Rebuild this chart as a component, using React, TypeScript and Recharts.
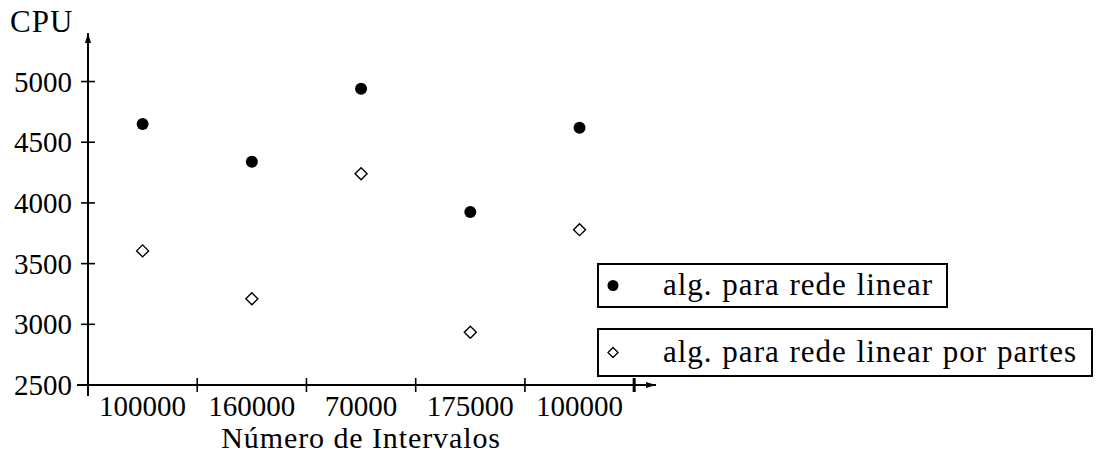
import React from 'react';
import {
  ScatterChart,
  Scatter,
  XAxis,
  YAxis,
  ReferenceLine,
  ReferenceDot,
} from 'recharts';

const CATEGORIES = ['100000', '160000', '70000', '175000', '100000'];
const LINEAR = [4650, 4340, 4940, 3925, 4620];
const PARTES = [3605, 3210, 4240, 2935, 3780];
const Y_TICKS = [2500, 3000, 3500, 4000, 4500, 5000];
const X_TICKS = [0.5, 1, 1.5, 2, 2.5, 3, 3.5, 4, 4.5, 5];

const FONT = '"Liberation Serif", "Times New Roman", serif';

const linearData = LINEAR.map((v, i) => ({ x: i + 0.5, y: v }));
const partesData = PARTES.map((v, i) => ({ x: i + 0.5, y: v }));

function Dot(props: any) {
  return <circle cx={props.cx} cy={props.cy} r={6} fill="#000" />;
}

function Diamond(props: any) {
  const { cx, cy } = props;
  const s = 6;
  return (
    <path
      d={`M${cx},${cy - s}L${cx + s},${cy}L${cx},${cy + s}L${cx - s},${cy}Z`}
      fill="#fff"
      stroke="#000"
      strokeWidth={1.4}
    />
  );
}

function YTick(props: any) {
  const { x, y, payload } = props;
  return (
    <g>
      <line x1={x - 7} x2={x + 7} y1={y} y2={y} stroke="#000" strokeWidth={1.6} />
      <text x={x - 16} y={y + 10} textAnchor="end" fontFamily={FONT} fontSize={29} fill="#000">
        {payload.value}
      </text>
    </g>
  );
}

function XTick(props: any) {
  const { x, y, payload } = props;
  const v = payload.value;
  if (Number.isInteger(v)) {
    return <line x1={x} x2={x} y1={y - 7} y2={y + 7} stroke="#000" strokeWidth={v === 5 ? 3 : 1.6} />;
  }
  return (
    <text x={x} y={y + 31} textAnchor="middle" fontFamily={FONT} fontSize={29} fill="#000">
      {CATEGORIES[Math.floor(v)]}
    </text>
  );
}

function ArrowRight(props: any) {
  const { cx, cy } = props;
  return <path d={`M${cx},${cy}L${cx - 10},${cy - 3}L${cx - 10},${cy + 3}Z`} fill="#000" />;
}

function ArrowUp(props: any) {
  const { cx, cy } = props;
  return <path d={`M${cx},${cy}L${cx - 3},${cy + 10}L${cx + 3},${cy + 10}Z`} fill="#000" />;
}

function LegendBox({ top, width, height, label, marker }: any) {
  const mid = (height - 4) / 2;
  return (
    <div
      style={{
        position: 'absolute',
        left: 597,
        top,
        width,
        height,
        border: '2px solid #000',
        boxSizing: 'border-box',
        fontFamily: FONT,
        fontSize: 31,
        letterSpacing: 1,
        wordSpacing: 1,
        color: '#000',
      }}
    >
      <svg width={30} height={height - 4} style={{ position: 'absolute', left: 0, top: 0 }}>
        {marker === 'dot' ? (
          <circle cx={14} cy={mid} r={5.5} fill="#000" />
        ) : (
          <path
            d={`M14,${mid - 5}L19,${mid}L14,${mid + 5}L9,${mid}Z`}
            fill="#fff"
            stroke="#000"
            strokeWidth={1.3}
          />
        )}
      </svg>
      <span style={{ position: 'absolute', left: 64, top: mid - 19, lineHeight: '36px', whiteSpace: 'nowrap' }}>
        {label}
      </span>
    </div>
  );
}

export default function App() {
  return (
    <div style={{ position: 'absolute', left: 0, top: 0, width: 1098, height: 453, background: '#fff' }}>
      <ScatterChart width={1098} height={453} margin={{ top: 33, right: 442, left: 0, bottom: 0 }}>
        <XAxis
          type="number"
          dataKey="x"
          domain={[0, 5.2]}
          ticks={X_TICKS}
          interval={0}
          axisLine={false}
          tickLine={false}
          tickSize={0}
          tickMargin={0}
          height={68}
          tick={<XTick />}
          allowDataOverflow
          label={{
            content: (p: any) => {
              const vb = p.viewBox;
              return (
                <text
                  x={vb.x + (vb.width * 2.5) / 5.2}
                  y={vb.y + 63}
                  textAnchor="middle"
                  fontFamily={FONT}
                  fontSize={30}
                  letterSpacing={0.9}
                  fill="#000"
                >
                  Número de Intervalos
                </text>
              );
            },
          }}
        />
        <YAxis
          type="number"
          dataKey="y"
          domain={[2500, 5400]}
          ticks={Y_TICKS}
          interval={0}
          axisLine={false}
          tickLine={false}
          tickSize={0}
          tickMargin={0}
          width={88}
          tick={<YTick />}
          allowDataOverflow
          label={{
            content: () => (
              <text x={10} y={32} fontFamily={FONT} fontSize={31} letterSpacing={1} fill="#000">
                CPU
              </text>
            ),
          }}
        />
        <ReferenceLine
          segment={[{ x: -0.1, y: 2500 }, { x: 5.2, y: 2500 }]}
          stroke="#000"
          strokeWidth={2}
          ifOverflow="visible"
        />
        <ReferenceLine
          segment={[{ x: 0, y: 2410 }, { x: 0, y: 5400 }]}
          stroke="#000"
          strokeWidth={2}
          ifOverflow="visible"
        />
        <ReferenceDot x={5.2} y={2500} ifOverflow="visible" shape={<ArrowRight />} />
        <ReferenceDot x={0} y={5400} ifOverflow="visible" shape={<ArrowUp />} />
        <Scatter name="alg. para rede linear" data={linearData} shape={<Dot />} isAnimationActive={false} />
        <Scatter name="alg. para rede linear por partes" data={partesData} shape={<Diamond />} isAnimationActive={false} />
      </ScatterChart>
      <LegendBox top={263} width={351} height={45} label="alg. para rede linear" marker="dot" />
      <LegendBox top={328} width={496} height={49} label="alg. para rede linear por partes" marker="diamond" />
    </div>
  );
}
